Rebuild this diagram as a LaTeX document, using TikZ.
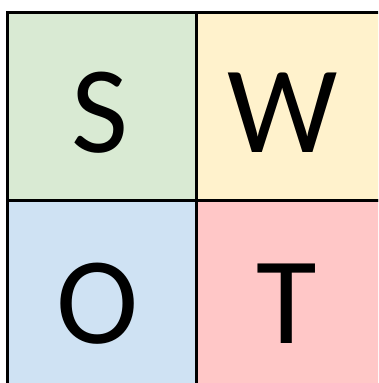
\documentclass[tikz,border=0pt]{standalone}
\usepackage{fontspec}
\setmainfont{Carlito}
\usepackage{xcolor}
\definecolor{swotS}{HTML}{D9EAD3}
\definecolor{swotW}{HTML}{FFF2CC}
\definecolor{swotO}{HTML}{CFE2F3}
\definecolor{swotT}{HTML}{FFC7C7}
\tikzset{every picture/.style={line width=0.75pt}}
\tikzset{
cell/.style={draw=black, line width=3pt, inner sep=0pt, outer sep=0pt, anchor=north west},
letter/.style={font=\fontsize{124}{124}\selectfont, anchor=base, inner sep=0pt}}

\begin{document}
\begin{tikzpicture}[x=1pt,y=-1pt]
\useasboundingbox (0,0) rectangle (378,383);
\clip (0,0) rectangle (378,383);

% Cells
\node[cell, fill=swotS, minimum width=189pt, minimum height=188pt] (s) at (7.5,12.5) {};
\node[cell, fill=swotW, minimum width=184.5pt, minimum height=188pt] (w) at (s.north east) {};
\node[cell, fill=swotO, minimum width=189pt, minimum height=185.5pt] (o) at (s.south west) {};
\node[cell, fill=swotT, minimum width=184.5pt, minimum height=185.5pt] (t) at (s.south east) {};

% Letters
\node[letter] (sl) at (100,152) {S};
\node[letter] (wl) at (283,152) {W};
\node[letter] (ol) at (98,343) {O};
\node[letter] (tl) at (287,343) {T};

\end{tikzpicture}
\end{document}
